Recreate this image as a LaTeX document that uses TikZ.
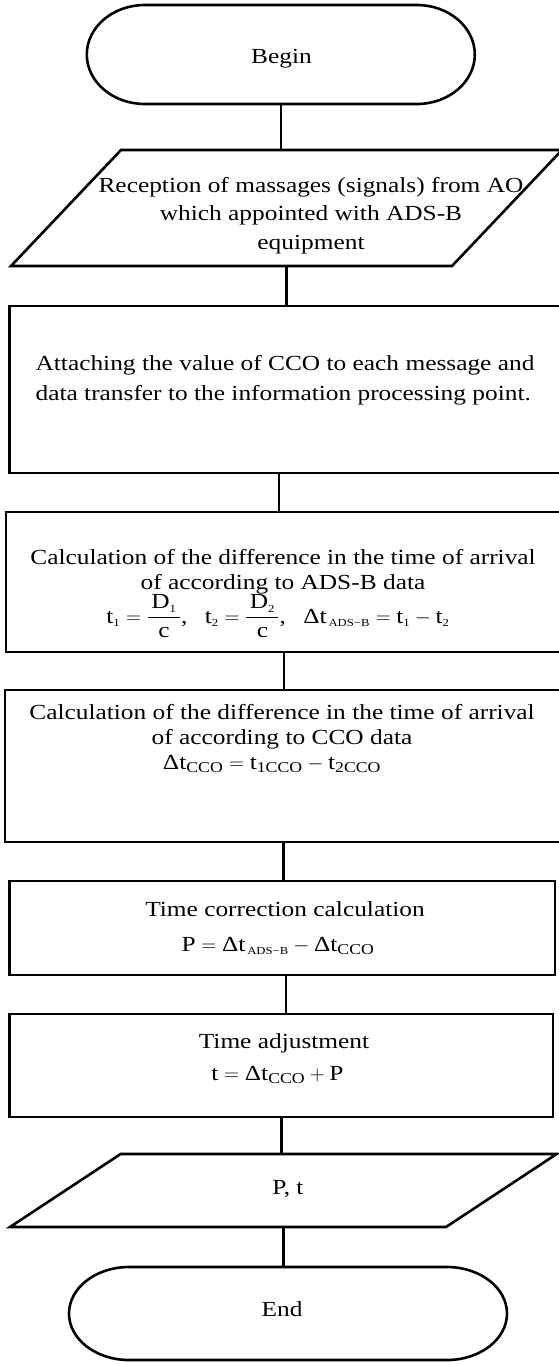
\documentclass[tikz,border=0pt]{standalone}
\usepackage{amsmath}
\usepackage{fontspec}
\setmainfont{Liberation Serif}[FakeStretch=1.18]
\usetikzlibrary{calc}

\begin{document}
\begin{tikzpicture}[x=1pt, y=-1pt, line width=2.6pt,
  every node/.style={font=\fontsize{21.5}{25}\selectfont, inner sep=0pt, outer sep=0pt},
  procbox/.style={draw, rectangle},
  shapebox/.style={rectangle},
  txt/.style={anchor=base, align=center}]
  \useasboundingbox (0,0) rectangle (558,1363);

  % outlines
  \node[shapebox, minimum width=388, minimum height=99] (begin) at (280.8,54.5) {};
  \node[shapebox, minimum width=441, minimum height=116] (recv) at (286.5,208) {};
  \node[procbox, minimum width=552.4, minimum height=167] (attach) at (285.8,389.5) {};
  \node[procbox, minimum width=556, minimum height=140] (dtadsb) at (284,582) {};
  \node[procbox, minimum width=557, minimum height=152] (dtcco) at (283.5,766) {};
  \node[procbox, minimum width=545.4, minimum height=94] (corr) at (282.3,928) {};
  \node[procbox, minimum width=543.4, minimum height=103] (adjust) at (281.3,1065.5) {};
  \node[shapebox, minimum width=436, minimum height=73] (out) at (283.3,1190.5) {};
  \node[shapebox, minimum width=438, minimum height=93] (finish) at (288,1313.5) {};

  \foreach \n/\rx/\ry in {begin/58pt/49.5pt, finish/60pt/46.5pt}
    \draw ([xshift=\rx]\n.north west) -- ([xshift=-\rx]\n.north east)
      arc[start angle=90, end angle=-90, x radius=\rx, y radius=\ry]
      -- ([xshift=\rx]\n.south west)
      arc[start angle=270, end angle=90, x radius=\rx, y radius=\ry] -- cycle;
  \foreach \n/\s in {recv/55, out/55.3}
    \draw ($(\n.north west)+(\s,0)$) -- ($(\n.north east)+(\s,0)$)
      -- ($(\n.south east)+(-\s,0)$) -- ($(\n.south west)+(-\s,0)$) -- cycle;

  % texts (placed at the baseline of their last line)
  \node[txt] (tbegin) at (281.5,63.3) {Begin};
  \node[txt, font=\fontsize{21.5}{28.5}\selectfont] (trecv) at (311,249) {Reception of massages (signals) from AO\\which appointed with ADS-B\\equipment};
  \node[anchor=base west, align=left, font=\fontsize{21.5}{29.3}\selectfont] (tattach) at (35.6,400) {Attaching the value of CCO to each message and\\data transfer to the information processing point.};
  \node[txt] (tdtadsb) at (283,623) {Calculation of the difference in the time of arrival\\of according to ADS-B data\\$\text{t}_{\scriptscriptstyle\text{1}} = \dfrac{\,\text{D}_{\scriptscriptstyle\text{1}}\,}{\text{c}}\text{,}\;\;\; \text{t}_{\scriptscriptstyle\text{2}} = \dfrac{\,\text{D}_{\scriptscriptstyle\text{2}}\,}{\text{c}}\text{,}\;\;\; \text{Δt}_{\scriptscriptstyle\,\text{ADS−B}} = \text{t}_{\scriptscriptstyle\text{1}} - \text{t}_{\scriptscriptstyle\text{2}}$\rule{10pt}{0pt}};
  \node[txt] (tdtcco) at (282,769) {Calculation of the difference in the time of arrival\\of according to CCO data\\$\text{Δt}_{\text{CCO}} = \text{t}_{\text{1CCO}} - \text{t}_{\text{2CCO}}$\rule{20pt}{0pt}};
  \node[txt] (tcorr) at (285,951) {Time correction calculation\\[10pt]$\text{P} = \text{Δt}_{\scriptscriptstyle\,\text{ADS−B}} - \text{Δt}_{\text{CCO}}$\rule{14pt}{0pt}};
  \node[txt] (tadjust) at (284,1080) {Time adjustment\\[7pt]$\text{t} = \text{Δt}_{\text{CCO}} + \text{P}$\rule{13pt}{0pt}};
  \node[txt] (tout) at (288,1194) {P, t};
  \node[txt] (tfinish) at (282,1316) {End};

  % connectors
  \draw (begin.south) -- (begin.south |- recv.north);
  \draw (recv.south) -- (recv.south |- attach.north);
  \draw ($(attach.south)+(-7,0)$) -- ($(attach.south |- dtadsb.north)+(-7,0)$);
  \draw (dtadsb.south) -- (dtadsb.south |- dtcco.north);
  \draw (dtcco.south) -- (dtcco.south |- corr.north);
  \draw ($(corr.south)+(3.5,0)$) -- ($(corr.south |- adjust.north)+(3.5,0)$);
  \draw (adjust.south) -- (adjust.south |- out.north);
  \draw (out.south) -- (out.south |- finish.north);
\end{tikzpicture}
\end{document}
